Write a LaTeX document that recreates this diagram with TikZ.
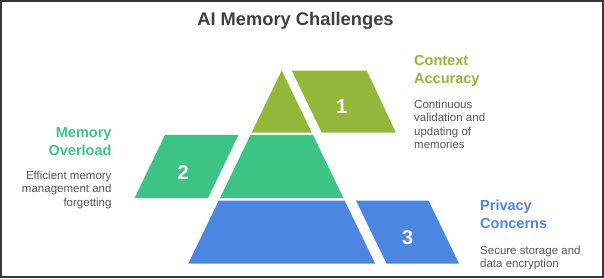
\documentclass[tikz,border=0pt]{standalone}
\usepackage{fontspec}
\setmainfont{Liberation Sans}
\usepackage{xcolor}
\usetikzlibrary{positioning}

\definecolor{olivetier}{HTML}{92B73A}
\definecolor{greentier}{HTML}{3DC485}
\definecolor{bluetier}{HTML}{4C86E0}
\definecolor{descgray}{HTML}{555555}
\definecolor{titlegray}{HTML}{404040}
\definecolor{framegray}{HTML}{383838}

\begin{document}
\begin{tikzpicture}[
    x=1pt, y=-1pt,
    every node/.style={inner sep=0pt},
    num/.style={text=white, font=\fontsize{20}{24}\selectfont\bfseries},
    heading/.style={font=\fontsize{14.5}{17.8}\selectfont\bfseries},
    desc/.style={text=descgray, font=\fontsize{11.5}{13.6}\selectfont}
]
\useasboundingbox (0,0) rectangle (604,278);
\draw[framegray, line width=2pt] (1,1) rectangle (603,277);

\node[anchor=north, text=titlegray, font=\fontsize{18.3}{22}\selectfont\bfseries] (title) at (295.5,12.5) {AI Memory Challenges};

% pyramid tiers
\fill[olivetier] (281.7,70.5) -- (311.8,132.7) -- (251.6,132.7) -- cycle;
\fill[greentier] (250.5,134.9) -- (312.9,134.9) -- (343.5,198.2) -- (219.9,198.2) -- cycle;
\fill[bluetier] (218.8,200.5) -- (344.6,200.5) -- (375.1,263.5) -- (188.3,263.5) -- cycle;

% side tabs
\fill[olivetier] (291.7,70.5) -- (366.7,70.5) -- (395.8,132.7) -- (321.8,132.7) -- cycle;
\fill[greentier] (165,134.9) -- (238.5,134.9) -- (208,198.2) -- (134.5,198.2) -- cycle;
\fill[bluetier] (356,200.5) -- (428.5,200.5) -- (459,263.5) -- (386.5,263.5) -- cycle;

\node[num] (one) at (341.7,106.7) {1};
\node[num] (two) at (183.3,172.7) {2};
\node[num] (three) at (407.7,237.8) {3};

% labels
\node[heading, text=olivetier, anchor=north west, align=left] (context) at (414,55) {Context\\Accuracy};
\node[desc, anchor=north west, align=left] (contextdesc) at (414,99.5) {Continuous\\validation and\\updating of\\memories};

\node[heading, text=greentier, anchor=north east, align=right] (overload) at (111.7,127.5) {Memory\\Overload};
\node[desc, anchor=north east, align=right] (overloaddesc) at (111.7,170.5) {Efficient memory\\management and\\forgetting};

\node[heading, text=bluetier, anchor=north west, align=left] (privacy) at (480,200) {Privacy\\Concerns};
\node[desc, anchor=north west, align=left] (privacydesc) at (480,245.5) {Secure storage and\\data encryption};

\end{tikzpicture}
\end{document}
